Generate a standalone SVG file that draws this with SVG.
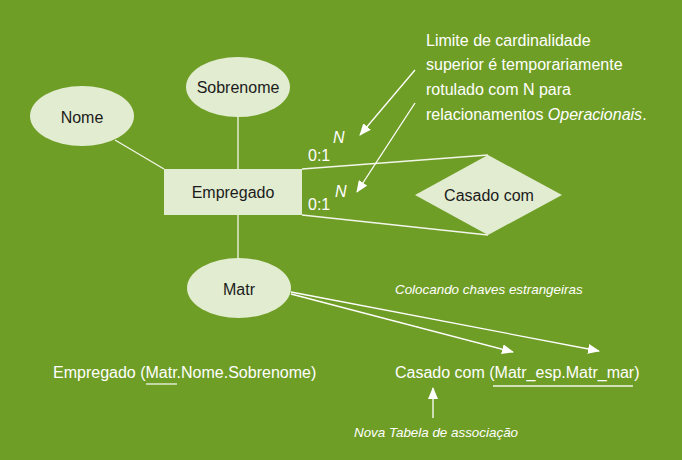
<svg xmlns="http://www.w3.org/2000/svg" width="682" height="460" viewBox="0 0 682 460">
<style>
.bg{fill:#6f9e26}
.shape{fill:#e2ecd1;stroke:none}
.lbl{font-family:"Liberation Sans",Arial,sans-serif;font-size:16px;fill:#1b1b1b;text-anchor:middle;dominant-baseline:central}
.w{font-family:"Liberation Sans",Arial,sans-serif;font-size:16px;fill:#ffffff}
.it{font-family:"Liberation Sans",Arial,sans-serif;font-size:13.4px;font-style:italic;fill:#ffffff}
.n{font-family:"Liberation Sans",Arial,sans-serif;font-size:16px;font-style:italic;fill:#ffffff}
.ln{stroke:#f2f6ea;stroke-width:1.3;fill:none}
.ar{stroke:#ffffff;stroke-width:1.3;fill:none;marker-end:url(#ah)}
</style>
<defs>
<marker id="ah" viewBox="0 0 12 10" refX="11" refY="5" markerWidth="12" markerHeight="10" markerUnits="userSpaceOnUse" orient="auto">
<path d="M0,0 L12,5 L0,10 Z" fill="#ffffff"/>
</marker>
</defs>
<rect class="bg" x="0" y="0" width="682" height="460"/>
<g id="connectors">
<line class="ln" x1="115" y1="140" x2="164" y2="169"/>
<line class="ln" x1="238" y1="117" x2="238" y2="169"/>
<line class="ln" x1="238" y1="215" x2="238" y2="259"/>
<line class="ln" x1="302" y1="169" x2="488" y2="155"/>
<line class="ln" x1="302" y1="215" x2="488" y2="235"/>
<line class="ar" x1="415" y1="70" x2="360" y2="135"/>
<line class="ar" x1="415" y1="103" x2="357" y2="192"/>
<line class="ar" x1="291" y1="294" x2="513" y2="352"/>
<line class="ar" x1="291" y1="292" x2="599" y2="351"/>
<line class="ar" x1="433" y1="418" x2="433" y2="388"/>
</g>
<g id="nome"><ellipse class="shape" cx="82" cy="116" rx="52" ry="30"/><text class="lbl" x="82" y="117">Nome</text></g>
<g id="sobrenome"><ellipse class="shape" cx="238" cy="87" rx="52" ry="30"/><text class="lbl" x="238" y="87">Sobrenome</text></g>
<g id="empregado"><rect class="shape" x="164" y="169" width="138" height="46"/><text class="lbl" x="233" y="192">Empregado</text></g>
<g id="matr"><ellipse class="shape" cx="239" cy="288" rx="52" ry="30"/><text class="lbl" x="239" y="289">Matr</text></g>
<g id="casado"><polygon class="shape" points="488,155 562,195 488,235 415,195"/><text class="lbl" x="489" y="195">Casado com</text></g>
<g id="labels">
<text class="w" x="308" y="161">0:1</text>
<text class="w" x="308" y="210">0:1</text>
<text class="n" x="333" y="143">N</text>
<text class="n" x="335" y="197">N</text>
<text class="w" x="426" y="46">Limite de cardinalidade</text>
<text class="w" x="426" y="70">superior é temporariamente</text>
<text class="w" x="426" y="95">rotulado com N para</text>
<text class="w" x="426" y="120">relacionamentos <tspan font-style="italic">Operacionais</tspan>.</text>
<text class="it" x="395" y="294">Colocando chaves estrangeiras</text>
<text class="w" x="53" y="378">Empregado (Matr.Nome.Sobrenome)</text>
<line class="ln" x1="146" y1="384" x2="177" y2="384"/>
<text class="w" x="395" y="378">Casado com (Matr_esp.Matr_mar)</text>
<line class="ln" x1="493" y1="386" x2="633" y2="386"/>
<text class="it" x="354" y="437">Nova Tabela de associação</text>
</g>
</svg>
